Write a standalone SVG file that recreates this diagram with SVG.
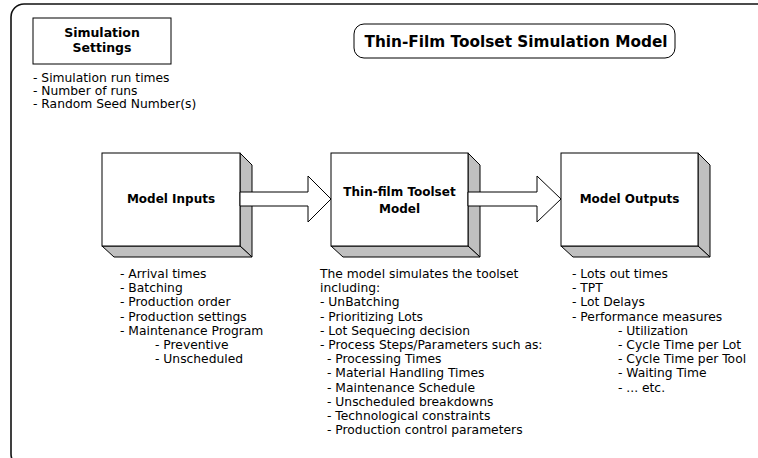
<svg xmlns="http://www.w3.org/2000/svg" width="758" height="458" viewBox="0 0 758 458">
<style>
.t{font-family:"DejaVu Sans",Verdana,sans-serif;font-size:12.3px;fill:#000}
.b{font-family:"DejaVu Sans",Verdana,sans-serif;font-size:12px;font-weight:bold;fill:#000;text-anchor:middle}
.front{fill:#fff;stroke:#000;stroke-width:1}
.side{fill:#c0c0c0;stroke:#000;stroke-width:1;stroke-linejoin:miter}
.arrow{fill:#fff;stroke:#000;stroke-width:1}
</style>
<rect width="758" height="458" fill="#fff"/>
<rect id="frame" x="11" y="4" width="800" height="463" rx="13" fill="none" stroke="#111" stroke-width="1.6"/>

<g id="title">
<rect x="354" y="24" width="321" height="34" rx="10" fill="#fff" stroke="#000" stroke-width="1"/>
<text x="516" y="47" class="b" style="font-size:15.3px">Thin-Film Toolset Simulation Model</text>
</g>

<g id="settings">
<rect x="33" y="18" width="138" height="46" fill="#fff" stroke="#000" stroke-width="1"/>
<text x="102" y="37" class="b" style="font-size:12.5px">Simulation</text>
<text x="102" y="52" class="b" style="font-size:12.5px">Settings</text>
<text class="t" x="33" y="82">- Simulation run times</text>
<text class="t" x="33" y="95">- Number of runs</text>
<text class="t" x="33" y="108">- Random Seed Number(s)</text>
</g>

<g id="inputs">
<polygon class="side" points="240,153 252,165 252,257 240,246"/>
<polygon class="side" points="102,246 240,246 252,257 114,257"/>
<rect class="front" x="102" y="153" width="138" height="93"/>
<text x="171" y="203" class="b">Model Inputs</text>
</g>

<g id="toolset">
<polygon class="side" points="468,153 480,165 480,257 468,246"/>
<polygon class="side" points="331,246 468,246 480,257 343,257"/>
<rect class="front" x="331" y="153" width="137" height="93"/>
<text x="399.5" y="196" class="b">Thin-film Toolset</text>
<text x="399.5" y="213" class="b">Model</text>
</g>

<g id="outputs">
<polygon class="side" points="698,153 710,165 710,257 698,246"/>
<polygon class="side" points="561,246 698,246 710,257 573,257"/>
<rect class="front" x="561" y="153" width="137" height="93"/>
<text x="629.5" y="203" class="b">Model Outputs</text>
</g>

<g id="connectors">
<polygon class="arrow" points="240,192 308,192 308,176 331,199 308,222 308,206 240,206"/>
<polygon class="arrow" points="468,192 537,192 537,176 561,199 537,222 537,206 468,206"/>
</g>

<g id="inputs-list">
<text class="t" x="120" y="278">- Arrival times</text>
<text class="t" x="120" y="292.2">- Batching</text>
<text class="t" x="120" y="306.4">- Production order</text>
<text class="t" x="120" y="320.6">- Production settings</text>
<text class="t" x="120" y="334.8">- Maintenance Program</text>
<text class="t" x="155" y="349">- Preventive</text>
<text class="t" x="155" y="363.2">- Unscheduled</text>
</g>

<g id="model-list">
<text class="t" x="320" y="278">The model simulates the toolset</text>
<text class="t" x="320" y="292.2">including:</text>
<text class="t" x="320" y="306.4">- UnBatching</text>
<text class="t" x="320" y="320.6">- Prioritizing Lots</text>
<text class="t" x="320" y="334.8">- Lot Sequecing decision</text>
<text class="t" x="320" y="349">- Process Steps/Parameters such as:</text>
<text class="t" x="327" y="363.2">- Processing Times</text>
<text class="t" x="327" y="377.4">- Material Handling Times</text>
<text class="t" x="327" y="391.6">- Maintenance Schedule</text>
<text class="t" x="327" y="405.8">- Unscheduled breakdowns</text>
<text class="t" x="327" y="420">- Technological constraints</text>
<text class="t" x="327" y="434.2">- Production control parameters</text>
</g>

<g id="outputs-list">
<text class="t" x="572" y="278">- Lots out times</text>
<text class="t" x="572" y="292.2">- TPT</text>
<text class="t" x="572" y="306.4">- Lot Delays</text>
<text class="t" x="572" y="320.6">- Performance measures</text>
<text class="t" x="618" y="334.8">- Utilization</text>
<text class="t" x="618" y="349">- Cycle Time per Lot</text>
<text class="t" x="618" y="363.2">- Cycle Time per Tool</text>
<text class="t" x="618" y="377.4">- Waiting Time</text>
<text class="t" x="618" y="391.6">- ... etc.</text>
</g>
</svg>
